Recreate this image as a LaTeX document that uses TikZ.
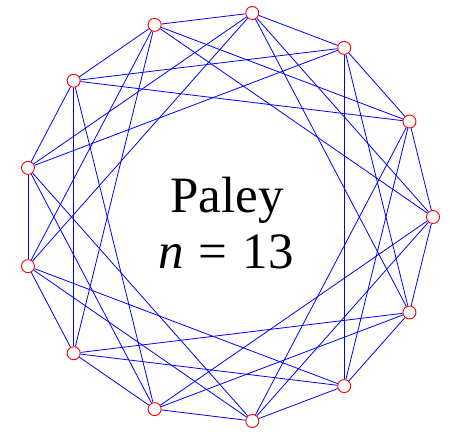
\documentclass[tikz,border=0pt]{standalone}
\usepackage{fontspec}
\setmainfont{Liberation Serif}
\begin{document}
\begin{tikzpicture}[x=1pt,y=1pt,
  vert/.style={circle,draw=red,fill=white,line width=0.9pt,minimum size=13pt,inner sep=0pt},
  edge/.style={draw=blue,line width=0.8pt},
  lbl/.style={font=\fontsize{51}{53}\selectfont,anchor=base,inner sep=0pt}]
\useasboundingbox (0,0) rectangle (450,435);
\foreach \k in {0,...,12}{
  \node[vert] (v\k) at ([shift={(227.5,218)}] {360*\k/13}:205.5) {};
}
\foreach \k in {0,...,12}{
  \pgfmathtruncatemacro{\a}{mod(\k+1,13)}
  \pgfmathtruncatemacro{\b}{mod(\k+3,13)}
  \pgfmathtruncatemacro{\c}{mod(\k+4,13)}
  \draw[edge] (v\k) -- (v\a);
  \draw[edge] (v\k) -- (v\b);
  \draw[edge] (v\k) -- (v\c);
}
\node[lbl] (t1) at (227,222) {Paley};
\node[lbl] (t2) at (226,166) {\textit{n}\hspace{0.3em}=\hspace{0.3em}13};
\end{tikzpicture}
\end{document}
